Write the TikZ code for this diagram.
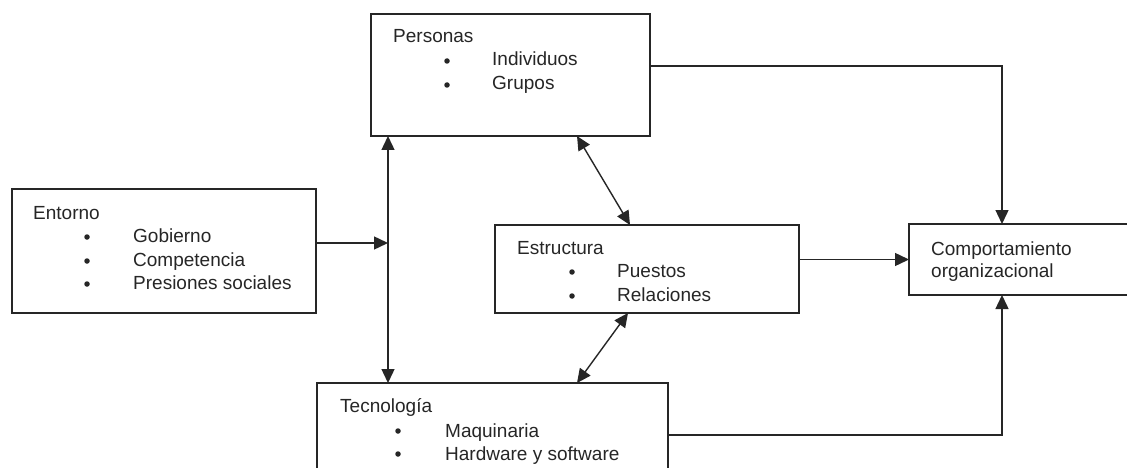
\documentclass[tikz,border=0pt]{standalone}
\usepackage{fontspec}
\setmainfont{Liberation Sans}
\usetikzlibrary{arrows.meta}
\begin{document}
\begin{tikzpicture}[x=1pt,y=-1pt,
  box/.style={draw=black!85,line width=1.6pt,anchor=north west,inner sep=0pt,outer sep=0pt},
  lbl/.style={anchor=base west,inner sep=0pt,font=\fontsize{19}{23}\selectfont,text=black!85},
  bul/.style={circle,fill=black!85,inner sep=0pt,minimum size=5.5pt},
  conn/.style={draw=black!85,line width=1.4pt},
  arr/.style={conn,-{Triangle[length=14pt,width=13pt]}},
  darr/.style={conn,{Triangle[length=14pt,width=13pt]}-{Triangle[length=14pt,width=13pt]}}]
\useasboundingbox (0,0) rectangle (1127,468);
\clip (0,0) rectangle (1127,468);
\fill[white] (0,0) rectangle (1127,468);
% boxes
\node[box,minimum width=304pt,minimum height=124pt] (ent) at (12,189) {};
\node[box,minimum width=279pt,minimum height=122pt] (per) at (371,14) {};
\node[box,minimum width=304pt,minimum height=88pt] (est) at (495,225) {};
\node[box,minimum width=351pt,minimum height=104pt] (tec) at (317,383) {};
\node[box,minimum width=240pt,minimum height=71pt] (comp) at (909,224) {};
% texts
\node[lbl] (entT) at (33,219) {Entorno};
\node[bul] (entB1) at (87,237) {};
\node[bul] (entB2) at (87,261) {};
\node[bul] (entB3) at (87,284) {};
\node[lbl] (entI1) at (133,242) {Gobierno};
\node[lbl] (entI2) at (133,266) {Competencia};
\node[lbl] (entI3) at (133,289) {Presiones sociales};
\node[lbl] (perT) at (393,43) {Personas};
\node[bul] (perB1) at (447,61) {};
\node[bul] (perB2) at (447,85) {};
\node[lbl] (perI1) at (492,66) {Individuos};
\node[lbl] (perI2) at (492,90) {Grupos};
\node[lbl] (estT) at (517,254) {Estructura};
\node[bul] (estB1) at (572,272) {};
\node[bul] (estB2) at (572,296) {};
\node[lbl] (estI1) at (617,277) {Puestos};
\node[lbl] (estI2) at (617,301) {Relaciones};
\node[lbl] (tecT) at (340,412) {Tecnología};
\node[bul] (tecB1) at (398,431) {};
\node[bul] (tecB2) at (398,454) {};
\node[lbl] (tecI1) at (445,437) {Maquinaria};
\node[lbl] (tecI2) at (445,460) {Hardware y software};
\node[lbl] (compT1) at (931,255) {Comportamiento};
\node[lbl] (compT2) at (931,277) {organizacional};
% connectors
\coordinate (vtop) at ([xshift=17pt]per.south west);
\coordinate (vbot) at (vtop |- tec.north);
\coordinate (cx) at ([xshift=93pt]comp.north west);
\draw[darr] (vtop) -- (vbot);
\draw[arr] ([yshift=8pt]ent.east) -- ([yshift=8pt]ent.east -| vtop);
\draw[arr] ([yshift=9pt]per.east) -| (cx);
\draw[arr] (tec.east) -| ([xshift=93pt]comp.south west);
\draw[arr] (est.east |- comp.west) -- (comp.west);
\draw[darr] ([xshift=206pt]per.south west) -- ([xshift=135pt]est.north west);
\draw[darr] ([xshift=133pt]est.south west) -- ([xshift=260pt]tec.north west);
\end{tikzpicture}
\end{document}
